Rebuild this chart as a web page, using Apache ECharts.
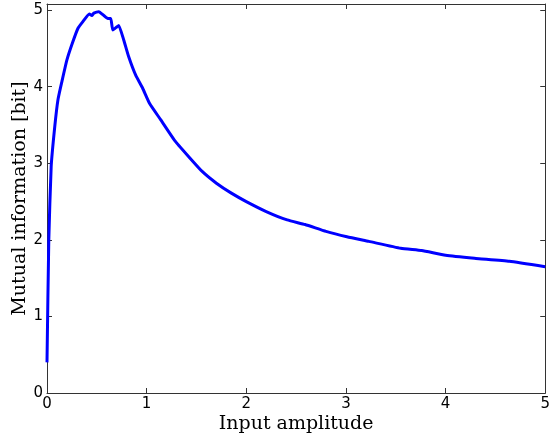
<!DOCTYPE html>
<html>
<head>
<meta charset="utf-8">
<script src="https://cdn.jsdelivr.net/npm/echarts@6/dist/echarts.min.js"></script>
<style>
  html, body { margin: 0; padding: 0; background: #fff; }
  #chart { width: 553px; height: 439px; }
</style>
</head>
<body>
<div id="chart"></div>
<script>
// values
var amplitude = [0, 0.018, 0.042, 0.078, 0.11, 0.15, 0.2, 0.255, 0.31, 0.36, 0.425, 0.45, 0.47, 0.52,
  0.57, 0.61, 0.64, 0.66, 0.70, 0.72, 0.77, 0.82, 0.89, 0.96, 1.03, 1.14, 1.28, 1.42, 1.56, 1.70,
  1.85, 2.0, 2.2, 2.41, 2.59, 2.80, 3.01, 3.23, 3.55, 3.76, 4.0, 4.29, 4.64, 5.0];
var mutualInfo = [0.40, 2.0, 2.96, 3.48, 3.83, 4.07, 4.35, 4.57, 4.76, 4.85, 4.95, 4.93, 4.96, 4.98,
  4.93, 4.89, 4.89, 4.74, 4.78, 4.80, 4.61, 4.39, 4.15, 3.98, 3.78, 3.57, 3.30, 3.09, 2.89, 2.74,
  2.61, 2.50, 2.37, 2.26, 2.20, 2.11, 2.04, 1.98, 1.89, 1.86, 1.80, 1.76, 1.72, 1.65];
var xTicks = [0, 1, 2, 3, 4, 5];
var yTicks = [0, 1, 2, 3, 4, 5];

var points = amplitude.map(function (x, i) { return [x, mutualInfo[i]]; });

var lineColor = '#333';
var tickFont = { fontFamily: 'DejaVu Sans', fontSize: 15, color: '#000' };
var titleFont = { fontFamily: 'DejaVu Serif', fontSize: 19, color: '#000' };

// top / right axes only close the frame and carry inward ticks
function frameAxis(pos, isX) {
  return {
    type: 'value',
    position: pos,
    min: 0,
    max: isX ? 5 : 5.08,
    interval: 1,
    axisLine: { show: true, onZero: false, lineStyle: { color: lineColor, width: 1 } },
    axisTick: { show: true, inside: true, length: 5, lineStyle: { color: lineColor } },
    axisLabel: { show: false },
    splitLine: { show: false }
  };
}

var myChart = echarts.init(document.getElementById('chart'));
myChart.setOption({
  animation: false,
  grid: { left: 47, right: 4, top: 4, bottom: 45 },
  xAxis: [{
    type: 'value',
    min: 0,
    max: 5,
    interval: 1,
    name: 'Input amplitude',
    nameLocation: 'middle',
    nameGap: 22,
    nameMoveOverlap: false,
    nameTextStyle: titleFont,
    axisLine: { show: true, onZero: false, lineStyle: { color: lineColor, width: 1 } },
    axisTick: { show: true, inside: true, length: 5, lineStyle: { color: lineColor } },
    axisLabel: Object.assign({ margin: 4, formatter: function (v) { return xTicks.indexOf(v) >= 0 ? String(v) : ''; } }, tickFont),
    splitLine: { show: false }
  }, frameAxis('top', true)],
  yAxis: [{
    type: 'value',
    min: 0,
    max: 5.08,
    interval: 1,
    name: 'Mutual information [bit]',
    nameLocation: 'middle',
    nameGap: 17,
    nameMoveOverlap: false,
    nameTextStyle: titleFont,
    axisLine: { show: true, onZero: false, lineStyle: { color: lineColor, width: 1 } },
    axisTick: { show: true, inside: true, length: 5, lineStyle: { color: lineColor } },
    axisLabel: Object.assign({ margin: 4, formatter: function (v) { return yTicks.indexOf(v) >= 0 ? String(v) : ''; } }, tickFont),
    splitLine: { show: false }
  }, frameAxis('right', false)],
  series: [{
    type: 'line',
    data: points,
    smooth: 0.15,
    showSymbol: false,
    lineStyle: { color: '#0000ff', width: 3 },
    clip: true
  }]
});
</script>
</body>
</html>
